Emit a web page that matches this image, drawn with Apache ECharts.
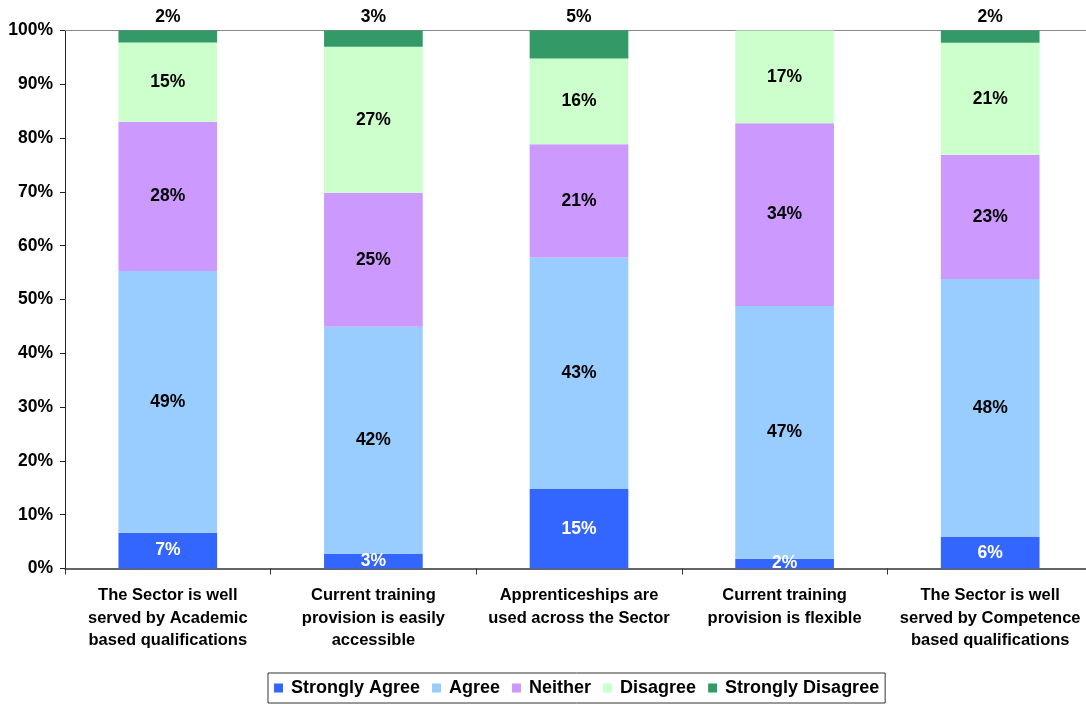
<!DOCTYPE html>
<html>
<head>
<meta charset="utf-8">
<script src="https://cdn.jsdelivr.net/npm/echarts@6/dist/echarts.min.js"></script>
<style>
  html, body { margin: 0; padding: 0; background: #fff; overflow: hidden; width: 1086px; height: 704px; }
  /* the plot area runs a few pixels past the right edge of the page */
  #chart { width: 1093px; height: 704px; }
</style>
</head>
<body>
<div id="chart"></div>
<script>
// Survey statements (x axis)
const categories = [
  'The Sector is well\nserved by Academic\nbased qualifications',
  'Current training\nprovision is easily\naccessible',
  'Apprenticeships are\nused across the Sector',
  'Current training\nprovision is flexible',
  'The Sector is well\nserved by Competence\nbased qualifications'
];

// Share of responses per answer, in percent
const stronglyAgree    = [6.65, 2.7, 14.8, 1.8, 5.85];
const agree            = [48.65, 42.25, 43.0, 47.0, 47.95];
const neither          = [27.75, 24.9, 21.05, 33.95, 23.1];
const disagree         = [14.7, 27.15, 15.95, 17.25, 20.8];
const stronglyDisagree = [2.25, 3.0, 5.2, 0, 2.3];

const seriesNames = ['Strongly Agree', 'Agree', 'Neither', 'Disagree', 'Strongly Disagree'];
const seriesData = [stronglyAgree, agree, neither, disagree, stronglyDisagree];
const seriesColors = ['#3366FF', '#99CCFF', '#CC99FF', '#CCFFCC', '#339966'];
const labelColors = ['#ffffff', '#000000', '#000000', '#000000', '#000000'];

const FONT = '"Liberation Sans", Arial, Helvetica, sans-serif';

const chart = echarts.init(document.getElementById('chart'));

const series = seriesNames.map((name, i) => ({
  name: name,
  type: 'bar',
  stack: 'total',
  barWidth: '48%',
  data: seriesData[i],
  itemStyle: { color: seriesColors[i] },
  label: {
    show: true,
    position: i === 4 ? 'top' : 'inside',
    distance: 4,
    color: labelColors[i],
    fontFamily: FONT,
    fontWeight: 'bold',
    fontSize: 17.5,
    formatter: p => (p.value > 0 ? Math.round(p.value) + '%' : '')
  }
}));

chart.setOption({
  animation: false,
  backgroundColor: '#ffffff',
  textStyle: { fontFamily: FONT },
  grid: { left: 65, top: 30.5, right: 0, bottom: 135.5, containLabel: false },
  legend: {
    data: seriesNames,
    left: 268,
    top: 673,
    orient: 'horizontal',
    icon: 'rect',
    itemWidth: 9,
    itemHeight: 9,
    itemGap: 12,
    padding: [6, 6, 6, 6],
    borderColor: '#333',
    borderWidth: 1,
    textStyle: {
      fontFamily: FONT,
      fontWeight: 'bold',
      fontSize: 18,
      color: '#000',
      padding: [0, 0, 0, 3]
    }
  },
  xAxis: [
    {
      type: 'category',
      data: categories,
      position: 'bottom',
      axisLine: { show: true, lineStyle: { color: '#333', width: 1.5 } },
      axisTick: { show: true, length: 6, lineStyle: { color: '#333' } },
      axisLabel: {
        interval: 0,
        margin: 16,
        color: '#000',
        fontFamily: FONT,
        fontWeight: 'bold',
        fontSize: 16.5,
        lineHeight: 22.5,
        align: 'center'
      },
      splitLine: { show: false }
    },
    {
      // plot-area top border
      type: 'category',
      data: categories,
      position: 'top',
      axisLine: { show: true, lineStyle: { color: '#888', width: 1 } },
      axisTick: { show: false },
      axisLabel: { show: false },
      splitLine: { show: false }
    }
  ],
  yAxis: {
    type: 'value',
    min: 0,
    max: 100,
    interval: 10,
    axisLine: { show: true, lineStyle: { color: '#222', width: 1 } },
    axisTick: { show: true, length: 5, lineStyle: { color: '#222' } },
    splitLine: { show: false },
    axisLabel: {
      formatter: '{value}%',
      margin: 12,
      color: '#000',
      fontFamily: FONT,
      fontWeight: 'bold',
      fontSize: 17.5
    }
  },
  series: series
});
</script>
</body>
</html>
